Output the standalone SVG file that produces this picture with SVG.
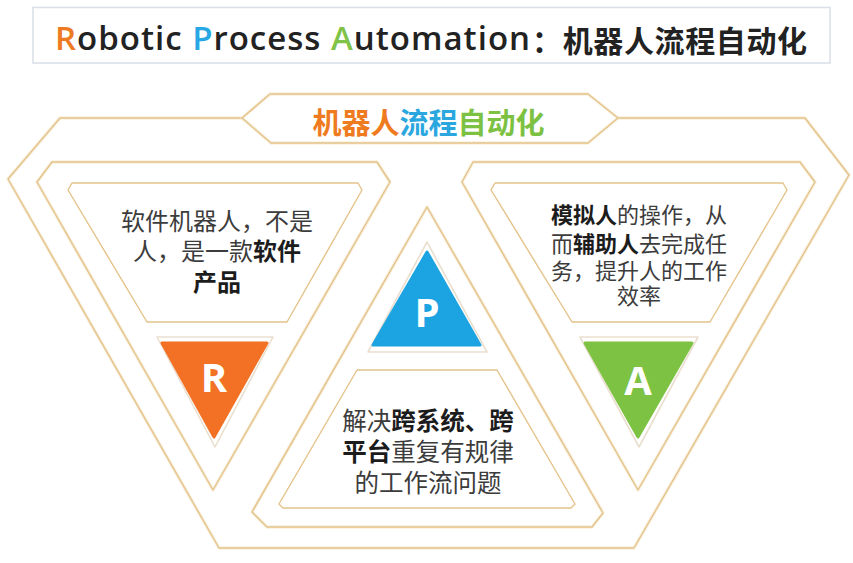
<svg xmlns="http://www.w3.org/2000/svg" width="853" height="563" viewBox="0 0 853 563">
<style>
.ln{fill:none;stroke:#E4C38A;stroke-width:1.4;stroke-linejoin:round}
.glow{fill:none;stroke:#F3E3C4;stroke-width:3.5;stroke-linejoin:round;opacity:.55}
.ring{fill:#fff;stroke:#EADFCF;stroke-width:1.6;stroke-linejoin:round}
.cjk{font-family:"Noto Sans CJK SC","Noto Sans",sans-serif}
.t{font-family:"Noto Sans CJK SC","Noto Sans",sans-serif;fill:#3c3c3c;text-anchor:middle}
.b{font-weight:700;fill:#1c1c1c}
.let{font-family:"Open Sans","Noto Sans",sans-serif;font-weight:700;font-size:40px;fill:#fff;text-anchor:middle}
</style>
<rect width="853" height="563" fill="#fff"/>

<g id="title">
<rect x="33" y="7.5" width="797" height="55.5" fill="#fff" stroke="#D9DEE8" stroke-width="1.5"/>
<text y="50" font-size="33" fill="#222" font-family="'Open Sans','Noto Sans',sans-serif" font-weight="600" x="55" textLength="475" lengthAdjust="spacing"><tspan fill="#EE7A22">R</tspan><tspan>obotic </tspan><tspan fill="#27A8E4">P</tspan><tspan>rocess </tspan><tspan fill="#7FC348">A</tspan><tspan>utomation</tspan></text>
<text y="52" x="532" font-size="30" fill="#222" class="cjk" font-weight="700" textLength="275" lengthAdjust="spacing">：机器人流程自动化</text>
</g>

<g id="frame">
<path class="glow" d="M242,118 L60,118 L8,179 L219,548 L634,548 L849,175 L805,118 L618,118"/>
<path class="ln" d="M242,118 L60,118 L8,179 L219,548 L634,548 L849,175 L805,118 L618,118"/>
</g>

<g id="banner">
<polygon class="glow" points="242,118 270,94 588,94 618,118 588,143 271,143"/>
<polygon class="ln" points="242,118 270,94 588,94 618,118 588,143 271,143"/>
<text x="428.5" y="134" font-size="29" font-weight="700" class="cjk" text-anchor="middle"><tspan fill="#EF7B21">机器人</tspan><tspan fill="#2BA7E0">流程</tspan><tspan fill="#7DC143">自动化</tspan></text>
</g>

<g id="panel-r">
<polygon class="glow" points="52,162 377,162 390,182 213,490 37,182"/>
<polygon class="ln" points="52,162 377,162 390,182 213,490 37,182"/>
<polygon class="ln" points="72,183 358,183 362,190 287,322 147,322 68,190"/>
<text class="t" font-size="24" x="217" y="230">软件机器人，不是</text>
<text class="t" font-size="24" x="217" y="260"><tspan>人，是一款</tspan><tspan class="b">软件</tspan></text>
<text class="t b" font-size="24" x="217" y="291">产品</text>
<polygon class="ring" points="157,337 273,337 215,447"/>
<polygon points="162,343 267,343 214,437" fill="#F37124" stroke="#F37124" stroke-width="3" stroke-linejoin="round"/>
<text class="let" x="214" y="392">R</text>
</g>

<g id="panel-p">
<polygon class="glow" points="427,207 603,513 592,527 267,527 252,512"/>
<polygon class="ln" points="427,207 603,513 592,527 267,527 252,512"/>
<polygon class="ln" points="357,370 497,370 575,504 571,508 283,508 279,504"/>
<polygon class="ring" points="427,242 487,352 368,352"/>
<polygon points="427,252 480,345 373,345" fill="#1CA3E2" stroke="#1CA3E2" stroke-width="3" stroke-linejoin="round"/>
<text class="let" x="427" y="327">P</text>
<text class="t" font-size="24.5" x="428" y="430"><tspan>解决</tspan><tspan class="b">跨系统、跨</tspan></text>
<text class="t" font-size="24.5" x="428" y="461"><tspan class="b">平台</tspan><tspan>重复有规律</tspan></text>
<text class="t" font-size="24.5" x="428" y="492">的工作流问题</text>
</g>

<g id="panel-a">
<polygon class="glow" points="473,162 800,162 815,182 638,490 462,182"/>
<polygon class="ln" points="473,162 800,162 815,182 638,490 462,182"/>
<polygon class="ln" points="495,183 783,183 787,190 710,322 572,322 491,190"/>
<text class="t" font-size="22" x="639" y="223"><tspan class="b">模拟人</tspan><tspan>的操作，从</tspan></text>
<text class="t" font-size="22" x="639" y="252"><tspan>而</tspan><tspan class="b">辅助人</tspan><tspan>去完成任</tspan></text>
<text class="t" font-size="22" x="639" y="279">务，提升人的工作</text>
<text class="t" font-size="22" x="639" y="304">效率</text>
<polygon class="ring" points="580,337 698,337 639,447"/>
<polygon points="585,343 692,343 638,437" fill="#7DC243" stroke="#7DC243" stroke-width="3" stroke-linejoin="round"/>
<text class="let" x="638" y="395">A</text>
</g>
</svg>
